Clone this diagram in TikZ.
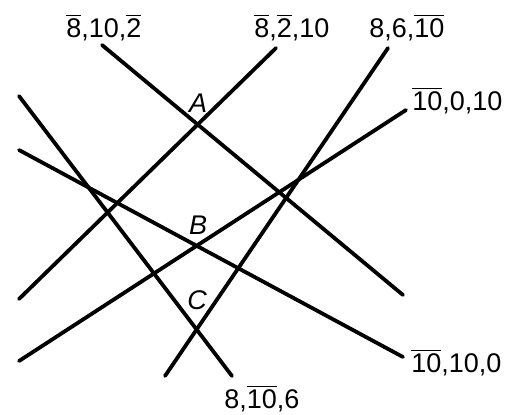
\documentclass[tikz,border=0pt]{standalone}
\usepackage{fontspec}
\setmainfont{Liberation Sans}
\usetikzlibrary{positioning}

\newcommand{\ovl}[1]{$\overline{\mbox{#1}}$}

\begin{document}
\begin{tikzpicture}[
  x=0.5pt, y=-0.5pt,
  ln/.style={line width=1.9pt, line cap=round},
  lbl/.style={anchor=base west, inner sep=0pt, font=\fontsize{13.5}{15}\selectfont},
  pt/.style={anchor=base, inner sep=0pt, font=\fontsize{13.5}{15}\selectfont\itshape}
]
\useasboundingbox (0,0) rectangle (507,414);

% end points of the six lines
\coordinate (l1a) at (102,45);  \coordinate (l1b) at (403,295);
\coordinate (l2a) at (276,48);  \coordinate (l2b) at (19,299);
\coordinate (l3a) at (388,48);  \coordinate (l3b) at (165,376);
\coordinate (l4a) at (406,110); \coordinate (l4b) at (19,361);
\coordinate (l5a) at (19,150);  \coordinate (l5b) at (403,357);
\coordinate (l6a) at (19,96);   \coordinate (l6b) at (232,376);

\draw[ln] (l1a) -- (l1b);
\draw[ln] (l2a) -- (l2b);
\draw[ln] (l3a) -- (l3b);
\draw[ln] (l4a) -- (l4b);
\draw[ln] (l5a) -- (l5b);
\draw[ln] (l6a) -- (l6b);

% labels
\node[lbl] (t1) at (66,37)   {\ovl{8},10,\ovl{2}};
\node[lbl] (t2) at (254,37)  {\ovl{8},\ovl{2},10};
\node[lbl] (t3) at (369,37)  {8,6,\ovl{10}};
\node[lbl] (t4) at (412,110) {\ovl{10},0,10};
\node[lbl] (t5) at (411,372) {\ovl{10},10,0};
\node[lbl] (t6) at (224,408) {8,\ovl{10},6};

\node[pt] (pA) at (198,112) {A};
\node[pt] (pB) at (198,234) {B};
\node[pt] (pC) at (197,309) {C};
\end{tikzpicture}
\end{document}
